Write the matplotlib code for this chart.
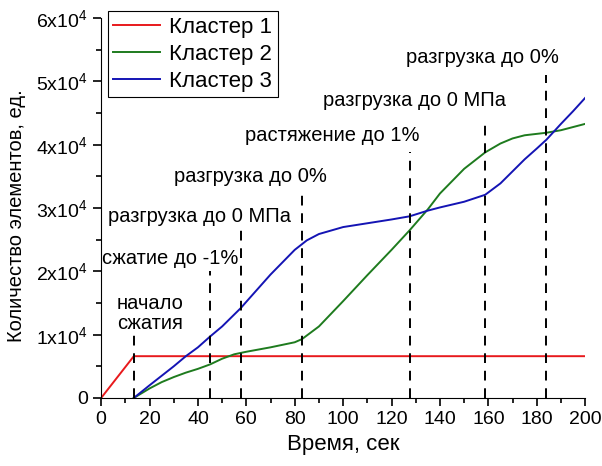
import numpy as np
import matplotlib.pyplot as plt
import matplotlib as mpl
from matplotlib.ticker import MultipleLocator, FuncFormatter

mpl.rcParams['font.family'] = 'Liberation Sans'
mpl.rcParams['mathtext.fontset'] = 'custom'
mpl.rcParams['mathtext.rm'] = 'Liberation Sans'
mpl.rcParams['mathtext.it'] = 'Liberation Sans:italic'
mpl.rcParams['font.size'] = 14

# data
t1 = [0, 13.5, 200]
n1 = [0, 6600, 6600]

t2 = [13.5, 20, 25, 30, 35, 40, 45, 50, 55, 60, 70, 80, 83, 90, 100, 110, 120,
      127.5, 135, 140, 150, 158.7, 165, 170, 175, 184, 190, 200]
n2 = [0, 1500, 2500, 3300, 4000, 4600, 5300, 6200, 6900, 7300, 8000, 8800, 9300,
      11300, 15300, 19400, 23400, 26500, 29800, 32300, 36200, 38800, 40200, 41000,
      41500, 41900, 42300, 43300]

t3 = [13.5, 20, 30, 35, 40, 45, 50, 57.7, 60, 70, 80, 85, 90, 100, 110, 120,
      127.5, 135, 140, 150, 158.7, 165, 170, 175, 180, 184, 190, 195, 200]
n3 = [0, 2000, 5000, 6600, 8000, 9700, 11300, 14200, 15200, 19500, 23400, 24900,
      25900, 27000, 27600, 28200, 28700, 29600, 30100, 31000, 32100, 33900, 35800,
      37700, 39400, 40800, 43300, 45300, 47400]

# stage markers: time, top of dashed line, label, label position
stage_t = [13.5, 45, 57.7, 83, 127.5, 158.7, 183.9]
stage_top = [9900, 20000, 26500, 33000, 38800, 43600, 51000]
stage_lbl = ['начало\nсжатия', 'сжатие до -1%', 'разгрузка до 0 МПа',
             'разгрузка до 0%', 'растяжение до 1%', 'разгрузка до 0 МПа',
             'разгрузка до 0%']
lbl_x = [20.2, 28.5, 40.5, 61.6, 95.5, 129.4, 157.4]
lbl_y = [13400, 22100, 28600, 35000, 41400, 47000, 53800]

fig = plt.figure(figsize=(6.02, 4.66), dpi=100)
ax = fig.add_axes([0.168, 0.146, 0.804, 0.815])

ax.plot(t1, n1, color='#e8191c', lw=1.4, label='Кластер 1')
ax.plot(t2, n2, color='#1e7b1e', lw=1.4, label='Кластер 2')
ax.plot(t3, n3, color='#1414b4', lw=1.4, label='Кластер 3')

for i in range(len(stage_t)):
    ax.plot([stage_t[i], stage_t[i]], [0, stage_top[i]], color='k', lw=1.4,
            ls=(0, (5, 4)))
    ax.text(lbl_x[i], lbl_y[i], stage_lbl[i], ha='center', va='center',
            fontsize=14.5, linespacing=1.05)

ax.set_xlim(0, 200)
ax.set_ylim(0, 60000)
ax.xaxis.set_major_locator(MultipleLocator(20))
ax.xaxis.set_minor_locator(MultipleLocator(10))
ax.yaxis.set_major_locator(MultipleLocator(10000))
ax.yaxis.set_minor_locator(MultipleLocator(5000))


def yfmt(v, pos):
    k = int(round(v / 10000))
    if k == 0:
        return '0'
    return '%dx10$^{4}$' % k


ax.yaxis.set_major_formatter(FuncFormatter(yfmt))
ax.spines['top'].set_visible(False)
ax.spines['right'].set_visible(False)
ax.tick_params(which='major', direction='out', length=6, width=1.2, labelsize=14)
ax.tick_params(which='minor', direction='out', length=3.5, width=1.2)
ax.set_xlabel('Время, сек', fontsize=16)
ax.set_ylabel('Количество элементов, ед.', fontsize=14.5)
ax.yaxis.set_label_coords(-0.155, 0.48)

leg = ax.legend(loc='upper left', bbox_to_anchor=(0.014, 1.018), fontsize=16,
                frameon=True, fancybox=False, edgecolor='k', framealpha=1,
                handlelength=2.1, borderpad=0.25, labelspacing=0.27,
                handletextpad=0.4, borderaxespad=0)
leg.get_frame().set_linewidth(0.8)

fig.savefig('out.png', dpi=100)
